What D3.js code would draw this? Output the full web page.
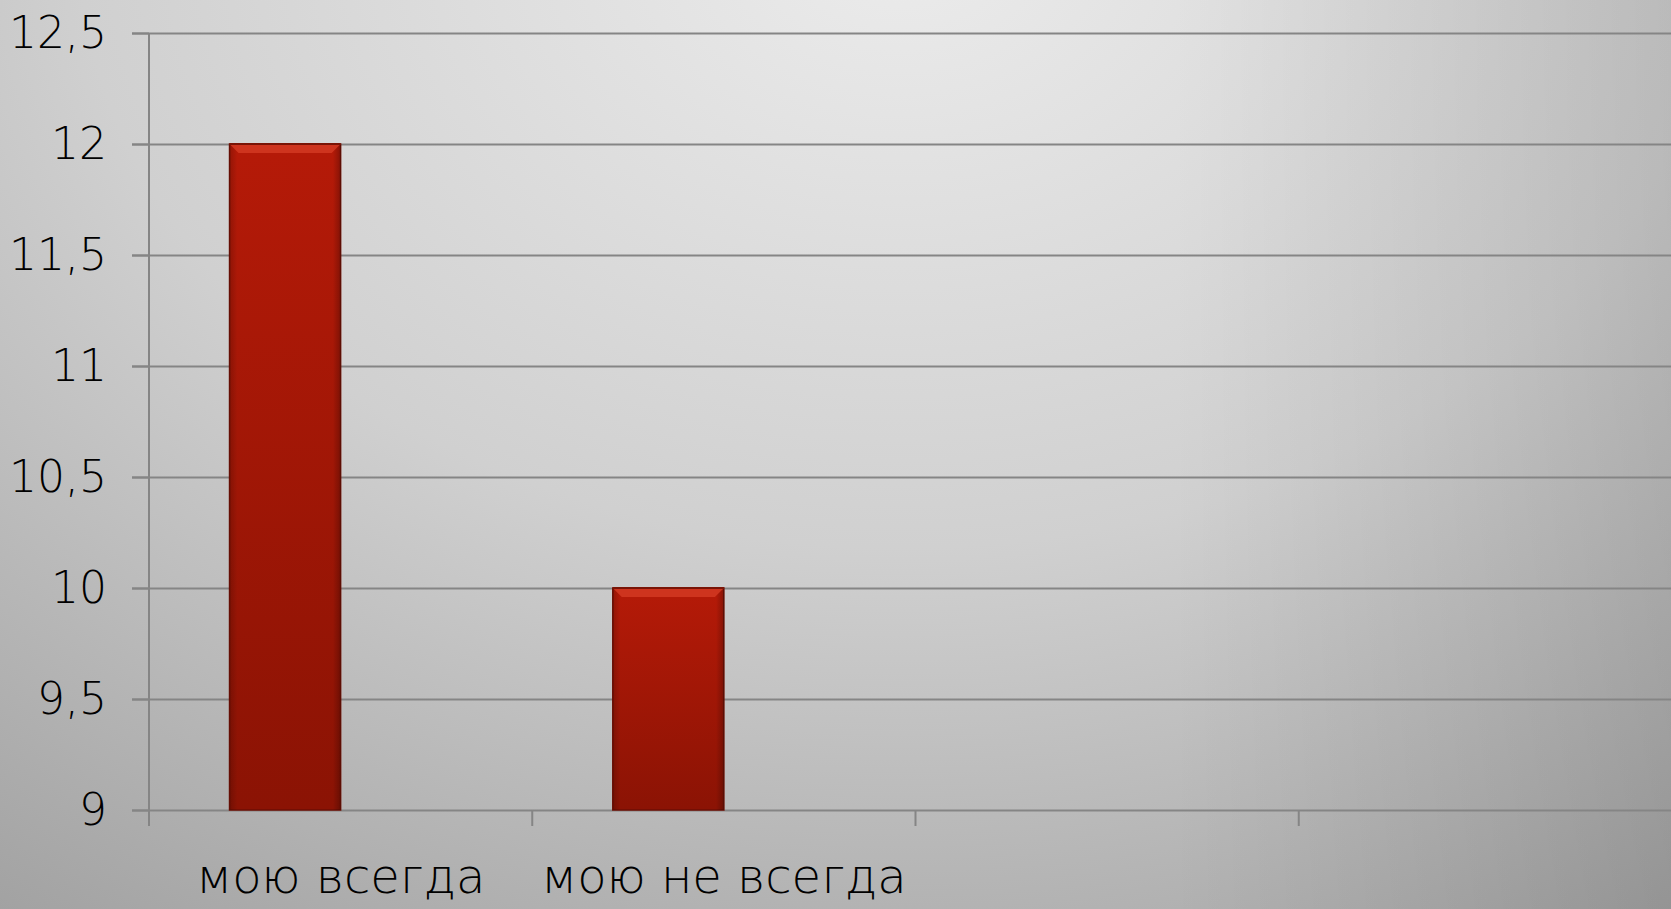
<!DOCTYPE html>
<html>
<head>
<meta charset="utf-8">
<script src="https://cdn.jsdelivr.net/npm/d3@7"></script>
<style>
  html, body { margin: 0; padding: 0; overflow: hidden; }
  svg { display: block; }
</style>
</head>
<body>
<div id="chart"></div>
<script>
// categories along the x axis (last two are empty in the original)
const categories = ["мою всегда", "мою не всегда", "", ""]
// two series per category, only the first one has visible bars
const seriesNames = ["Ряд 1", "Ряд 2"]
const series1 = [12, 10, null, null]
const series2 = [null, null, null, null]
const yTicks = [9, 9.5, 10, 10.5, 11, 11.5, 12, 12.5]

const width = 1671, height = 909
const margin = ({ top: 33, right: -11, bottom: 99, left: 149 })

const data = categories.map((c, i) => ({ i: i, name: c, values: [series1[i], series2[i]] }))

const x = d3.scaleBand()
   .domain(d3.range(categories.length))
   .range([margin.left, width - margin.right])
   .padding(0)

// Excel-like gap: bars sit in the middle of the group
const x1 = d3.scaleBand()
   .domain(seriesNames)
   .range([0, x.bandwidth()])
   .paddingInner(0)
   .paddingOuter(0.725)

const y = d3.scaleLinear()
   .domain([9, 12.5])
   .range([height - margin.bottom, margin.top])

const fmt = d => String(d).replace(".", ",")

const svg = d3.create("svg")
   .attr("width", width)
   .attr("height", height)
   .attr("viewBox", [0, 0, width, height])

const defs = svg.append("defs")

const bg = defs.append("radialGradient")
   .attr("id", "bg")
   .attr("gradientUnits", "userSpaceOnUse")
   .attr("cx", 900).attr("cy", -60).attr("r", 1350)
   .attr("gradientTransform", "translate(900,-60) scale(1.35,1) translate(-900,60)")
bg.append("stop").attr("offset", 0).attr("stop-color", "#ececec")
bg.append("stop").attr("offset", 0.45).attr("stop-color", "#d0d0d0")
bg.append("stop").attr("offset", 1).attr("stop-color", "#949494")

// right edge gets a bit darker
const shade = defs.append("linearGradient")
   .attr("id", "shade").attr("x1", 0).attr("y1", 0).attr("x2", 1).attr("y2", 0)
shade.append("stop").attr("offset", 0.7).attr("stop-color", "#000").attr("stop-opacity", 0)
shade.append("stop").attr("offset", 1).attr("stop-color", "#000").attr("stop-opacity", 0.11)

const barGrad = defs.append("linearGradient")
   .attr("id", "bar").attr("x1", 0).attr("y1", 0).attr("x2", 0).attr("y2", 1)
barGrad.append("stop").attr("offset", 0).attr("stop-color", "#b51a08")
barGrad.append("stop").attr("offset", 1).attr("stop-color", "#8b1304")

const sideGrad = defs.append("linearGradient")
   .attr("id", "side").attr("x1", 0).attr("y1", 0).attr("x2", 1).attr("y2", 0)
sideGrad.append("stop").attr("offset", 0).attr("stop-color", "#000").attr("stop-opacity", 0.18)
sideGrad.append("stop").attr("offset", 0.07).attr("stop-color", "#000").attr("stop-opacity", 0)
sideGrad.append("stop").attr("offset", 0.93).attr("stop-color", "#000").attr("stop-opacity", 0)
sideGrad.append("stop").attr("offset", 1).attr("stop-color", "#000").attr("stop-opacity", 0.25)

svg.append("rect")
   .attr("width", width)
   .attr("height", height)
   .attr("fill", "url(#bg)")

svg.append("rect")
   .attr("width", width)
   .attr("height", height)
   .attr("fill", "url(#shade)")

// gridlines
svg.append("g")
   .attr("transform", `translate(${margin.left - 17},0)`)
   .call(d3.axisRight(y).tickValues(yTicks).tickSize(width).tickFormat(""))
   .call(g => g.select(".domain").remove())
   .call(g => g.selectAll(".tick line").attr("stroke", "#858585").attr("stroke-width", 2))

// bars
const font = "DejaVu Sans, sans-serif"
const groups = svg.append("g")
   .selectAll("g")
   .data(data)
   .join("g")
   .attr("transform", d => `translate(${x(d.i)},0)`)

const bars = groups.selectAll("g")
   .data(d => d.values.map((v, k) => ({ key: seriesNames[k], value: v })).filter(b => b.value != null && b.value > 9))
   .join("g")

bars.append("rect")
   .attr("x", b => x1(b.key))
   .attr("y", b => y(b.value))
   .attr("width", x1.bandwidth())
   .attr("height", b => y(9) - y(b.value))
   .attr("fill", "url(#bar)")
   .attr("stroke", "#6d0f04")
   .attr("stroke-width", 1.5)

bars.append("rect")
   .attr("x", b => x1(b.key))
   .attr("y", b => y(b.value))
   .attr("width", x1.bandwidth())
   .attr("height", b => y(9) - y(b.value))
   .attr("fill", "url(#side)")

// top bevel
bars.append("path")
   .attr("d", b => {
      const x0 = x1(b.key), w = x1.bandwidth(), t = y(b.value), e = 9
      return `M${x0},${t}L${x0 + w},${t}L${x0 + w - e},${t + e}L${x0 + e},${t + e}Z`
   })
   .attr("fill", "#d23a22")
   .attr("opacity", 0.85)

bars.append("line")
   .attr("x1", b => x1(b.key))
   .attr("x2", b => x1(b.key) + x1.bandwidth())
   .attr("y1", b => y(b.value))
   .attr("y2", b => y(b.value))
   .attr("stroke", "#7a1406")
   .attr("stroke-width", 2)

// y axis
svg.append("g")
   .attr("transform", `translate(${margin.left},0)`)
   .call(d3.axisLeft(y).tickValues(yTicks).tickSize(17).tickPadding(25).tickFormat(fmt).tickSizeOuter(0))
   .call(g => g.select(".domain").attr("stroke", "#858585").attr("stroke-width", 2)
      .attr("d", `M0,${y(12.5)}V${y(9) + 16}`))
   .call(g => g.selectAll(".tick line").attr("stroke", "#858585").attr("stroke-width", 2))
   .call(g => g.selectAll("text")
      .attr("font-family", font)
      .attr("font-weight", 200)
      .attr("font-size", 44)
      .attr("fill", "#000"))

// x axis
svg.append("g")
   .attr("transform", `translate(0,${y(9)})`)
   .call(d3.axisBottom(x).tickSize(0).tickPadding(49).tickFormat(i => categories[i]))
   .call(g => g.select(".domain").remove())
   .call(g => g.selectAll("text")
      .attr("font-family", font)
      .attr("font-weight", 200)
      .attr("font-size", 48)
      .attr("fill", "#000"))

svg.append("g")
   .attr("stroke", "#858585")
   .attr("stroke-width", 2)
   .selectAll("line")
   .data(d3.range(categories.length + 1))
   .join("line")
   .attr("x1", i => margin.left + i * x.bandwidth())
   .attr("x2", i => margin.left + i * x.bandwidth())
   .attr("y1", y(9))
   .attr("y2", y(9) + 16)

d3.select("#chart").node().append(svg.node())
</script>
</body>
</html>
